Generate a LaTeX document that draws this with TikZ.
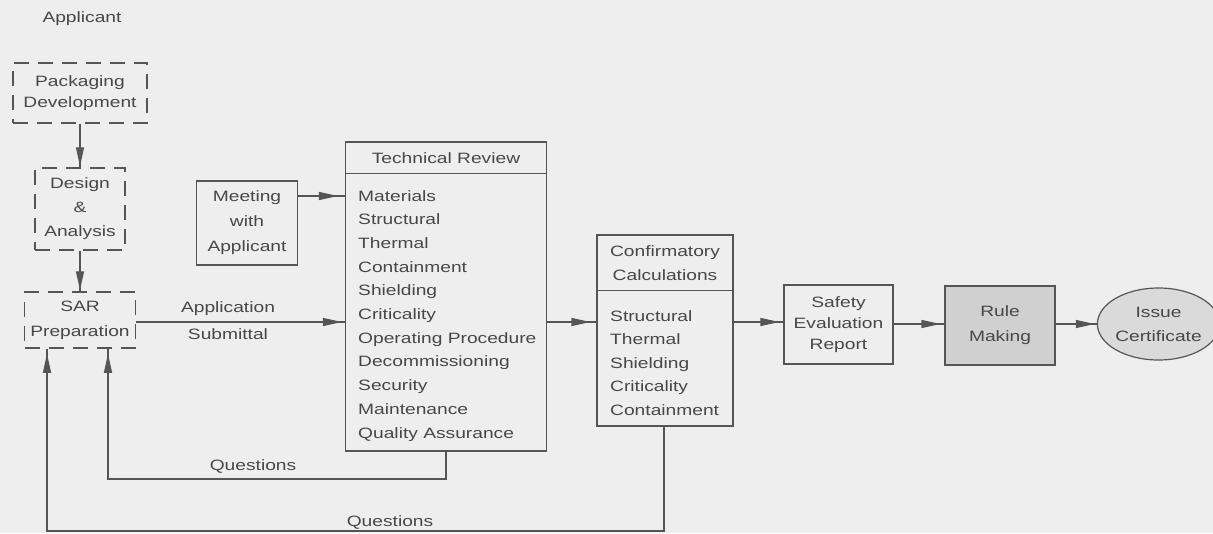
\documentclass[tikz,border=0pt]{standalone}
\usepackage{fontspec}
\setmainfont[FakeStretch=1.28]{Liberation Sans}
\usetikzlibrary{arrows.meta,decorations.markings,shapes.geometric}
\definecolor{paper}{HTML}{EEEEEE}
\definecolor{ink}{HTML}{474747}
\definecolor{linegray}{HTML}{555555}
\definecolor{shade}{HTML}{D0D0D0}
\definecolor{oval}{HTML}{DADADA}
\begin{document}
\begin{tikzpicture}[x=1pt,y=-1pt,
  every node/.style={text=ink, font=\fontsize{15}{24}\selectfont},
  box/.style={draw=linegray, line width=1.2pt, inner sep=0pt, align=center},
  dbox/.style={box, line width=1.5pt, dash pattern=on 15pt off 9pt},
  item/.style={anchor=base west, inner sep=0pt},
  lbl/.style={anchor=base, inner sep=0pt},
  conn/.style={draw=linegray, line width=1.2pt},
  flow/.style={conn, postaction=decorate,
    decoration={markings, mark=at position #1 with {\arrow{Triangle[length=19pt,width=8pt]}}}},
  flow/.default=-1pt]

% page
\fill[paper] (0,0) rectangle (1213,533);
\useasboundingbox (0,0) rectangle (1213,533);

% row levels of the horizontal connectors
\coordinate (r1) at (0,196);
\coordinate (r2) at (0,322);
\coordinate (r3) at (0,324);

% applicant side
\node[lbl] (appl) at (82,22) {Applicant};
\node[dbox, minimum width=134, minimum height=60, font=\fontsize{15}{21}\selectfont] (pd) at (80,93) {Packaging\\Development};
\node[dbox, minimum width=90, minimum height=82, font=\fontsize{15}{24}\selectfont] (da) at (80,209) {Design\\\&\\Analysis};
\node[dbox, minimum width=111, minimum height=56, font=\fontsize{15}{25}\selectfont] (sar) at (80,320) {SAR\\Preparation};

\draw[flow] (pd) -- (da);
\draw[flow] (da) -- (sar);

% meeting
\node[box, minimum width=101, minimum height=84, font=\fontsize{15}{25}\selectfont] (meet) at (247,223) {Meeting\\with\\Applicant};

% technical review
\node[box, minimum width=201, minimum height=309] (tr) at (446,296.5) {};
\draw[conn] ([yshift=-32pt]tr.north west) -- ([yshift=-32pt]tr.north east);
\node[lbl] (trhead) at (446,163) {Technical Review};
\foreach \t [count=\i] in {Materials, Structural, Thermal, Containment, Shielding,
    Criticality, Operating Procedure, Decommissioning, Security, Maintenance,
    Quality Assurance}
  \node[item] (tr\i) at (358,{201+23.7*(\i-1)}) {\t};

% confirmatory calculations
\node[box, minimum width=136, minimum height=191] (conf) at (665,330.5) {};
\draw[conn] ([yshift=-56pt]conf.north west) -- ([yshift=-56pt]conf.north east);
\node[inner sep=0pt, align=center] (confhead) at (665,263) {Confirmatory\\Calculations};
\foreach \t [count=\i] in {Structural, Thermal, Shielding, Criticality, Containment}
  \node[item] (cc\i) at (610,{321+23.5*(\i-1)}) {\t};

% downstream steps
\node[box, minimum width=109, minimum height=79, font=\fontsize{15}{21}\selectfont] (ser) at (838.5,324.5) {Safety\\Evaluation\\Report};
\node[box, fill=shade, minimum width=110, minimum height=79, font=\fontsize{15}{25}\selectfont] (rm) at (1000,325.5) {Rule\\Making};
\node[box, ellipse, fill=oval, minimum width=107, minimum height=72] (ic) at (1158.5,324) {Issue\\Certificate};

% main flow
\draw[flow=-7pt] (meet.east |- r1) -- (tr.west |- r1);
\draw[flow=-3pt] (sar.east |- r2) -- (tr.west |- r2);
\node[lbl] (appsub1) at (228,312) {Application};
\node[lbl] (appsub2) at (228,339) {Submittal};
\draw[flow=-6pt] (tr.east |- r2) -- (conf.west |- r2);
\draw[flow=-4pt] (conf.east |- r2) -- (ser.west |- r2);
\draw[flow=-4pt] (ser.east |- r3) -- (rm.west |- r3);
\draw[flow=-2pt] (rm.east |- r3) -- (ic.west |- r3);

% question loops back to the applicant
\coordinate (q1r) at (446,479);
\coordinate (q1l) at (108,479);
\draw[flow=-5pt] (tr.south -| q1r) -- (q1r) -- (q1l) -- (sar.south -| q1l);
\node[lbl] (qs1) at (253,470) {Questions};

\coordinate (q2r) at (664,531);
\coordinate (q2l) at (47,531);
\draw[flow=-5pt] (conf.south -| q2r) -- (q2r) -- (q2l) -- (sar.south -| q2l);
\node[lbl] (qs2) at (390,526) {Questions};
\end{tikzpicture}
\end{document}
